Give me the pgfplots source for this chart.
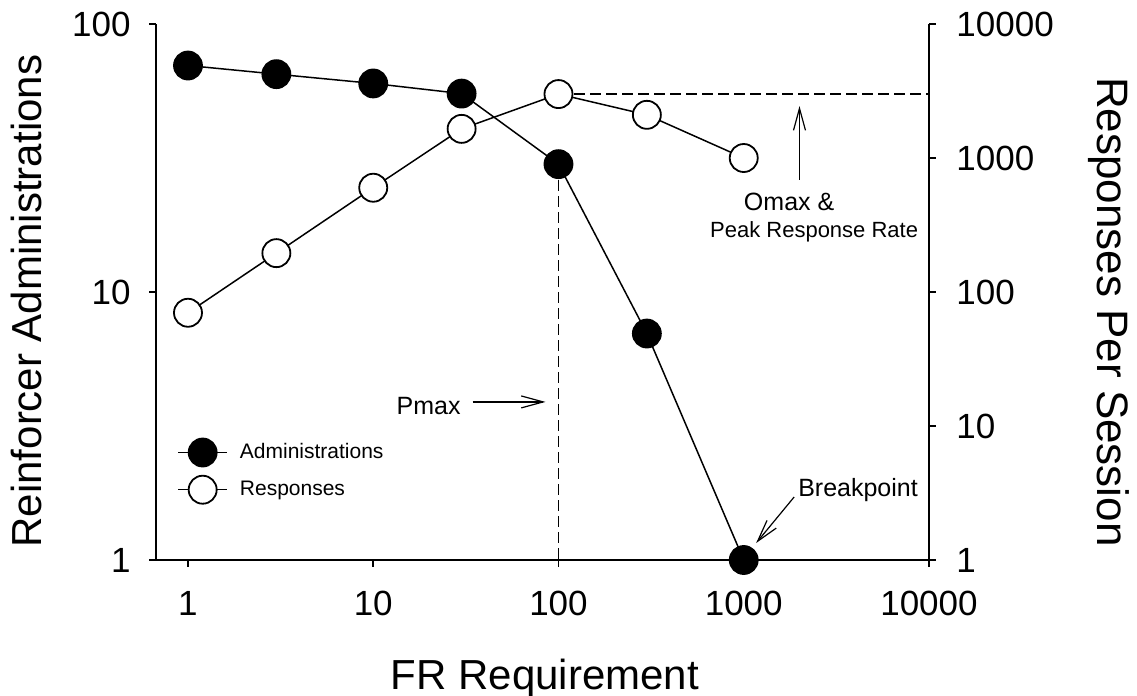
\documentclass[border=0pt]{standalone}
\usepackage{pgfplots}
\pgfplotsset{compat=1.18}
\usepackage{fontspec}
\setmainfont{Liberation Sans}
\usetikzlibrary{arrows.meta}

\newcommand\ticksize{\fontsize{17.5}{20}\selectfont}
\newcommand\labsize{\fontsize{21}{25}\selectfont}
\newcommand\rlabsize{\fontsize{22}{26}\selectfont}
\newcommand\legsize{\fontsize{10.5}{13}\selectfont}
\newcommand\notesize{\fontsize{12.5}{15}\selectfont}
\newcommand\smallnotesize{\fontsize{11}{13}\selectfont}

\tikzset{
  adm/.style={black, line width=0.75pt, mark=*, mark size=7pt,
    mark options={fill=black, draw=black, line width=0.9pt}},
  resp/.style={black, line width=0.75pt, mark=*, mark size=7pt,
    mark options={fill=white, draw=black, line width=0.9pt}},
  refline/.style={black, line width=0.6pt, dash pattern=on 5.5pt off 2.5pt},
  note/.style={font=\notesize, anchor=base},
  notearrow/.style={black, line width=0.6pt, -{Straight Barb[length=11pt,width=6pt]}},
}

\pgfplotsset{
  every axis/.append style={
    scale only axis, width=386.5pt, height=268pt,
    xmin=0.672, xmax=10000,
    xminorticks=false, yminorticks=false,
    tick align=outside, major tick length=3.5pt,
    tick style={black, line width=0.9pt},
    axis line style={line width=0.9pt},
    clip=false,
    tick label style={font=\ticksize},
  },
}

\begin{document}
\begin{tikzpicture}
\useasboundingbox (-78pt,-68pt) rectangle (490.5pt,280pt);

% left axis: reinforcer administrations
\begin{loglogaxis}[
  axis x line*=bottom, axis y line*=left,
  ymin=1, ymax=100,
  xtick={1,10,100,1000,10000}, xticklabels={1,10,100,1000,10000},
  ytick={1,10,100}, yticklabels={1,10,100},
  xticklabel style={yshift=-8.5pt},
  yticklabel style={xshift=-5.7pt},
  xlabel={FR Requirement},
  ylabel={Reinforcer Administrations},
  every axis x label/.style={at={(axis description cs:0.503,-0.2425)}, anchor=base, font=\labsize},
  every axis y label/.style={at={(axis description cs:-0.1475,0.483)}, rotate=90, anchor=base, font=\labsize},
  legend cell align=left,
  legend image code/.code={\draw[mark repeat=2,mark phase=2,#1] plot coordinates {(0pt,0pt) (12.25pt,0pt) (24.5pt,0pt)};},
  legend style={at={(axis description cs:0.0272,0.2274)}, anchor=north west,
    draw=none, fill=none, inner sep=0pt, row sep=4.6pt, font=\legsize,
    nodes={inner sep=0pt, text depth=0.15em},
    /tikz/every odd column/.append style={column sep=6pt}},
]
% Pmax reference line
\addplot[refline, forget plot] coordinates {(100,30) (100,1)};

\addplot[adm] coordinates {
  (1,70) (3,65) (10,60) (30,55) (100,30) (300,7) (1000,1)
};
\addlegendentry{Administrations}
\addlegendimage{resp}
\addlegendentry{Responses}

% annotations
\node[note] at (axis cs:19.9,3.48) {Pmax};
\draw[notearrow] (axis cs:34.4,3.89) -- (axis cs:85.1,3.89);
\draw[notearrow] (axis cs:2000,26.2) -- (axis cs:2000,49.4);
\node[note] at (axis cs:1758,20.2) {Omax \&};
\node[note, font=\smallnotesize] at (axis cs:2399,16.0) {Peak Response Rate};
\node[note] at (axis cs:4140,1.733) {Breakpoint};
\draw[notearrow] (axis cs:1871,1.718) -- (axis cs:1167,1.157);
\end{loglogaxis}

% right axis: responses per session
\begin{loglogaxis}[
  hide x axis, axis y line*=right,
  ymin=1, ymax=10000,
  ytick={1,10,100,1000,10000}, yticklabels={1,10,100,1000,10000},
  yticklabel style={xshift=6.7pt},
  ylabel={Responses Per Session},
  every axis y label/.style={at={(axis description cs:1.2186,0.4627)}, rotate=-90, anchor=base, font=\rlabsize},
]
% Omax reference line
\addplot[refline] coordinates {(100,3000) (10000,3000)};

\addplot[resp] coordinates {
  (1,70) (3,195) (10,600) (30,1650) (100,3000) (300,2100) (1000,1000)
};
\end{loglogaxis}
\end{tikzpicture}
\end{document}
